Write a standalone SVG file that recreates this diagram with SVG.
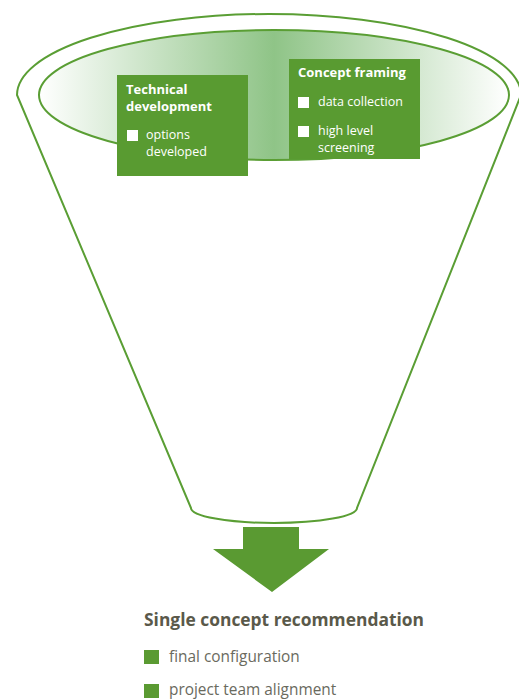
<svg xmlns="http://www.w3.org/2000/svg" width="519" height="700" viewBox="0 0 519 700">
  <style>
    .outline { fill: none; stroke: #5a9e34; stroke-width: 2; }
    .box { fill: #599b31; }
    .check { fill: #ffffff; }
    .title { font-family: "Open Sans", "Noto Sans", sans-serif; font-weight: 700; font-size: 13px; fill: #ffffff; }
    .item { font-family: "Open Sans", "Noto Sans", sans-serif; font-size: 12.5px; fill: #ffffff; }
    .result { font-family: "Open Sans", "Noto Sans", sans-serif; font-weight: 700; font-size: 17.4px; fill: #5a594a; }
    .result-item { font-family: "Open Sans", "Noto Sans", sans-serif; font-size: 15.4px; fill: #6a6a5e; }
  </style>
  <defs>
    <linearGradient id="mouthFill" x1="0" y1="0" x2="1" y2="0">
      <stop offset="0" stop-color="#ffffff"/>
      <stop offset="0.5" stop-color="#8fc487"/>
      <stop offset="1" stop-color="#ffffff"/>
    </linearGradient>
  </defs>

  <!-- funnel body -->
  <g id="funnel">
    <path class="outline" d="M17,95 A252,81 0 0 1 521,95 L357,508 A83,15 0 0 1 191,508 Z"/>
    <ellipse cx="274" cy="95" rx="235" ry="65" fill="url(#mouthFill)" stroke="#5a9e34" stroke-width="2"/>
  </g>

  <g id="technical-development">
    <rect class="box" x="117" y="75" width="131" height="101"/>
    <text class="title" x="126" y="94">Technical</text>
    <text class="title" x="126" y="111">development</text>
    <rect class="check" x="127" y="130" width="11" height="11"/>
    <text class="item" x="146" y="139">options</text>
    <text class="item" x="146" y="156">developed</text>
  </g>

  <g id="concept-framing">
    <rect class="box" x="289" y="59" width="131" height="100"/>
    <text class="title" x="298" y="77">Concept framing</text>
    <rect class="check" x="298" y="97" width="11" height="11"/>
    <text class="item" x="318" y="106">data collection</text>
    <rect class="check" x="298" y="126" width="11" height="11"/>
    <text class="item" x="318" y="135">high level</text>
    <text class="item" x="318" y="152">screening</text>
  </g>

  <g id="connectors">
    <polygon fill="#5a9a32" points="243,527 299,527 299,549 329,549 272,592 213,549 243,549"/>
  </g>

  <g id="single-concept-recommendation">
    <text class="result" x="144" y="626">Single concept recommendation</text>
    <rect fill="#5a9a32" x="144" y="650" width="15" height="14"/>
    <text class="result-item" x="169" y="662">final configuration</text>
    <rect fill="#5a9a32" x="144" y="684" width="15" height="14"/>
    <text class="result-item" x="169" y="695">project team alignment</text>
  </g>
</svg>
